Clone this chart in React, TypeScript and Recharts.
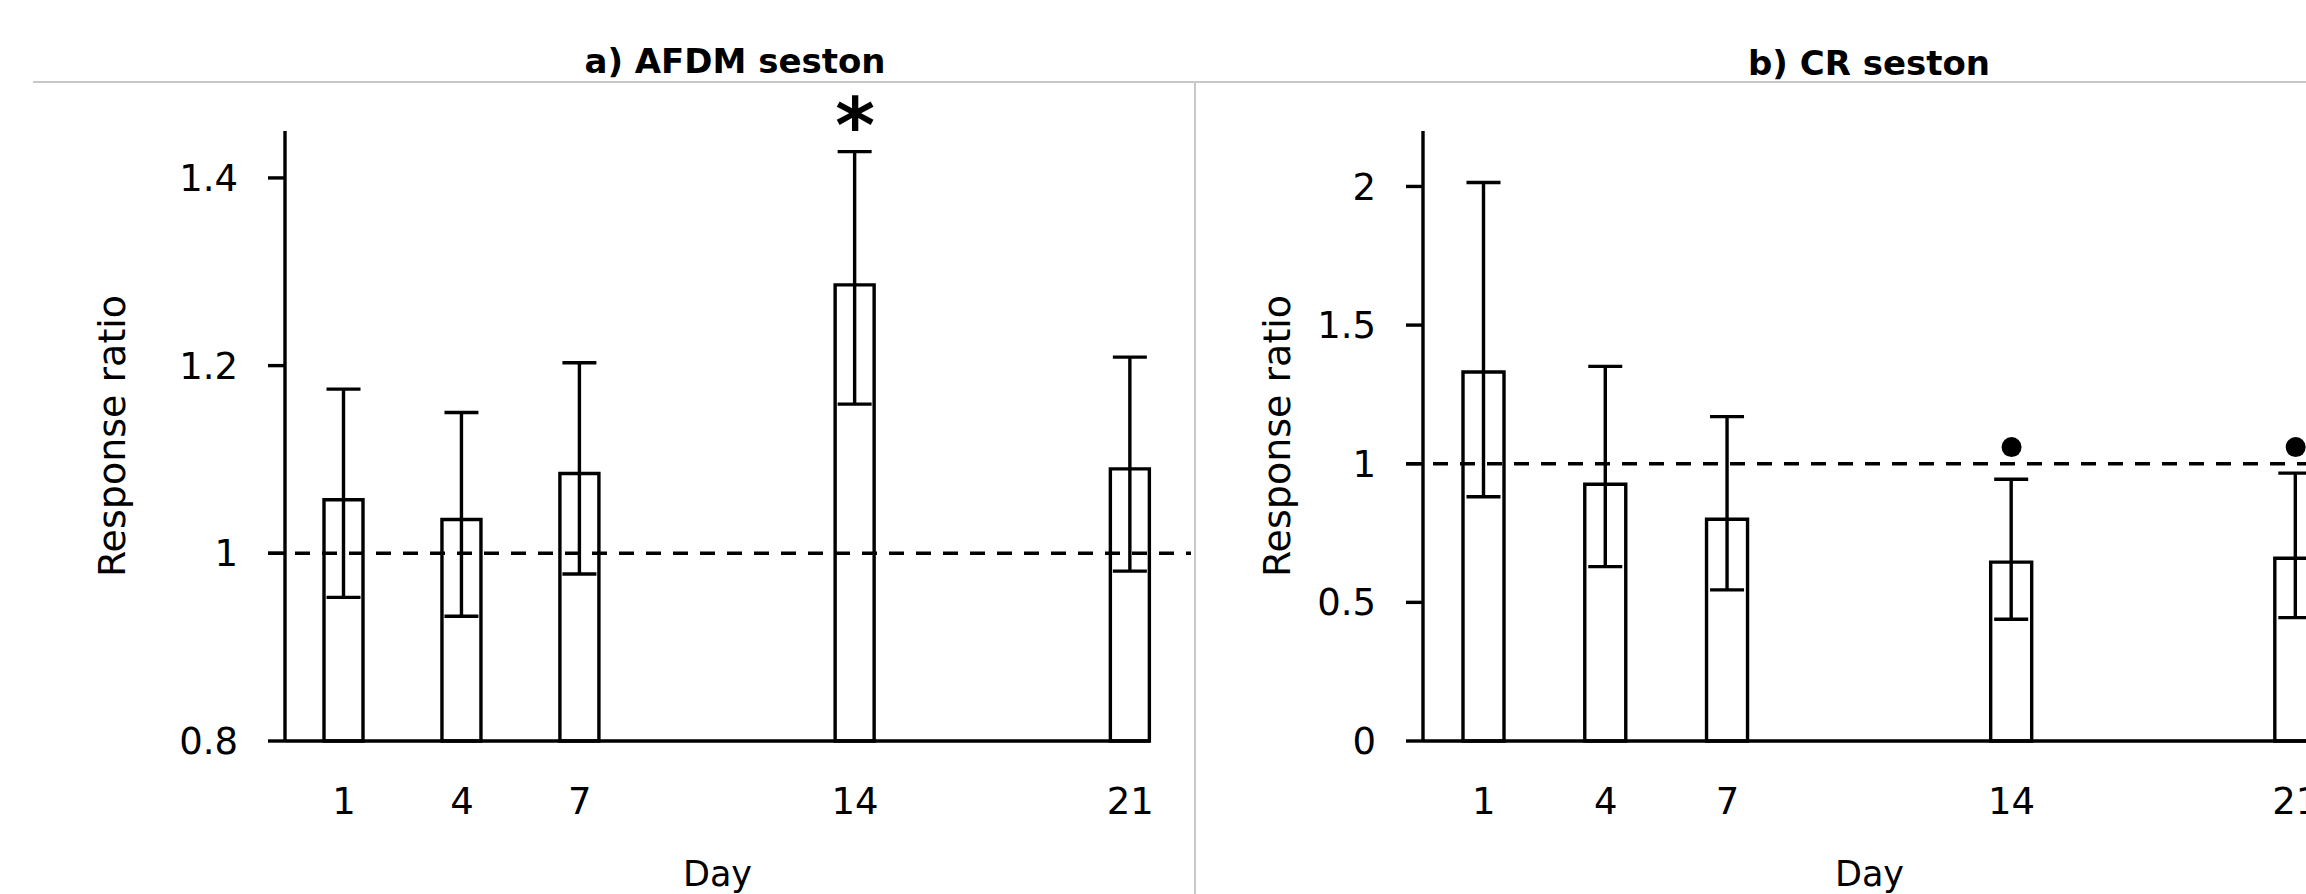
import React from 'react';
import { ComposedChart, Bar, ErrorBar, XAxis, YAxis, ReferenceLine, ReferenceDot, Label } from 'recharts';

// x categories (sampling day)
const days = [1, 4, 7, 14, 21];
const dayTicks = [1, 4, 7, 14, 21];

// a) AFDM seston: response ratio with lower / upper CI
const afdmMean = [1.057, 1.036, 1.085, 1.286, 1.09];
const afdmLower = [0.953, 0.933, 0.978, 1.159, 0.981];
const afdmUpper = [1.175, 1.15, 1.203, 1.428, 1.209];
const afdmTicks = [0.8, 1, 1.2, 1.4];
const afdmSigDays = [14];
const afdmSigLevel = 1.468;

// b) CR seston
const crMean = [1.331, 0.926, 0.8, 0.645, 0.659];
const crLower = [0.881, 0.629, 0.545, 0.439, 0.445];
const crUpper = [2.014, 1.351, 1.17, 0.944, 0.966];
const crTicks = [0, 0.5, 1, 1.5, 2];
const crSigDays = [14, 21];
const crSigLevel = 1.06;

const FONT = 'DejaVu Sans';
const LW = 3.4;

const buildRows = (mean: number[], lower: number[], upper: number[]) =>
    days.map((d, i) => ({
        day: d,
        value: mean[i],
        err: [mean[i] - lower[i], upper[i] - mean[i]],
    }));

const afdmRows = buildRows(afdmMean, afdmLower, afdmUpper);
const crRows = buildRows(crMean, crLower, crUpper);

const tickStyle = { fill: '#000', fontSize: 37, fontFamily: FONT };
const blackLine = { stroke: '#000', strokeWidth: LW };

// dashed line at ratio = 1, drawn from the tick marks out to the panel edge
const dashShape = (extraLeft: number, extraRight: number) => (props: any) => (
    <line
        x1={props.x1 - extraLeft}
        y1={props.y1}
        x2={props.x2 + extraRight}
        y2={props.y2}
        stroke="#000"
        strokeWidth={3.6}
        strokeDasharray="15 12"
    />
);

const asteriskShape = (props: any) => (
    <text x={props.cx} y={props.cy + 38} textAnchor="middle" fontSize={76} fontWeight="bold" fontFamily={FONT} fill="#000">
        *
    </text>
);

const dotShape = (props: any) => <circle cx={props.cx} cy={props.cy} r={10} fill="#000" />;

const yLabel = (gap: number) => (props: any) => {
    const vb = props.viewBox || {};
    const bx = vb.x + vb.width - gap;
    const cy = vb.y + vb.height / 2;
    return (
        <text x={bx} y={cy} transform={`rotate(-90 ${bx} ${cy})`} textAnchor="middle" fontSize={38} fontFamily={FONT} fill="#000">
            Response ratio
        </text>
    );
};

const dayLabel = (props: any) => {
    const vb = props.viewBox || {};
    return (
        <text x={vb.x + vb.width / 2} y={vb.y + 145} textAnchor="middle" fontSize={35} fontFamily={FONT} fill="#000">
            Day
        </text>
    );
};

interface PanelProps {
    rows: any[];
    width: number;
    left: number;
    yDomain: [number, number];
    yTicks: number[];
    barSize: number;
    labelGap: number;
    refRight: number;
    sigDays: number[];
    sigLevel: number;
    sigShape: (p: any) => React.ReactElement;
}

const Panel = ({ rows, width, left, yDomain, yTicks, barSize, labelGap, refRight, sigDays, sigLevel, sigShape }: PanelProps) => (
    <ComposedChart width={width} height={894} data={rows} margin={{ top: 131, right: 44, bottom: 53, left }}>
        <XAxis
            type="number"
            dataKey="day"
            domain={[-0.5, 21.5]}
            ticks={dayTicks}
            interval={0}
            tickLine={false}
            tickSize={0}
            tickMargin={47}
            axisLine={blackLine}
            tick={tickStyle}
            height={100}
        >
            <Label content={dayLabel} />
        </XAxis>
        <YAxis
            type="number"
            domain={yDomain}
            ticks={yTicks}
            interval={0}
            width={100}
            tickSize={17}
            tickMargin={30}
            tickLine={blackLine}
            axisLine={blackLine}
            tick={tickStyle}
        >
            <Label content={yLabel(labelGap)} />
        </YAxis>
        <Bar dataKey="value" fill="#fff" stroke="#000" strokeWidth={LW} barSize={barSize} isAnimationActive={false}>
            <ErrorBar dataKey="err" width={17} stroke="#000" strokeWidth={LW} direction="y" isAnimationActive={false} />
        </Bar>
        <ReferenceLine y={1} shape={dashShape(17, refRight)} />
        {sigDays.map((d) => (
            <ReferenceDot key={d} x={d} y={sigLevel} r={10} ifOverflow="visible" shape={sigShape} />
        ))}
    </ComposedChart>
);

export default function App() {
    return (
        <div style={{ position: 'absolute', left: 0, top: 0, width: 2306, height: 894, background: '#fff', overflow: 'hidden' }}>
            {/* chart frame lines */}
            <div style={{ position: 'absolute', left: 33, top: 81, width: 2273, height: 2, background: '#c8c8c8' }} />
            <div style={{ position: 'absolute', left: 1194, top: 81, width: 2, height: 813, background: '#c8c8c8' }} />
            <svg width={2306} height={894} style={{ position: 'absolute', left: 0, top: 0 }}>
                <text x={735} y={73} textAnchor="middle" fontSize={34} fontWeight="bold" fontFamily={FONT} fill="#000">
                    a) AFDM seston
                </text>
                <text x={1869} y={75} textAnchor="middle" fontSize={34} fontWeight="bold" fontFamily={FONT} fill="#000">
                    b) CR seston
                </text>
            </svg>
            <div style={{ position: 'absolute', left: 0, top: 0, width: 1194, height: 894 }}>
                <Panel
                    rows={afdmRows}
                    width={1194}
                    left={185}
                    yDomain={[0.8, 1.45]}
                    yTicks={afdmTicks}
                    barSize={39}
                    labelGap={160}
                    refRight={41}
                    sigDays={afdmSigDays}
                    sigLevel={afdmSigLevel}
                    sigShape={asteriskShape}
                />
            </div>
            <div style={{ position: 'absolute', left: 1194, top: 0, width: 1112, height: 894, overflow: 'hidden' }}>
                <Panel
                    rows={crRows}
                    width={1166}
                    left={129}
                    yDomain={[0, 2.2]}
                    yTicks={crTicks}
                    barSize={41}
                    labelGap={133}
                    refRight={44}
                    sigDays={crSigDays}
                    sigLevel={crSigLevel}
                    sigShape={dotShape}
                />
            </div>
        </div>
    );
}
